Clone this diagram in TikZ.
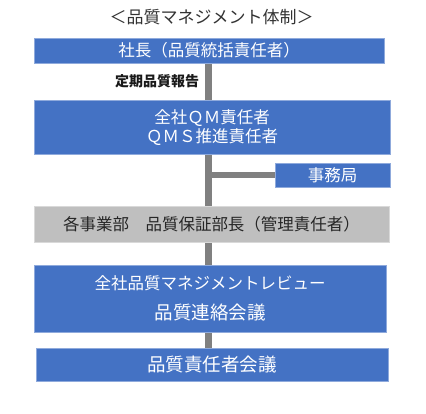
\documentclass[tikz,border=0pt]{standalone}
\usepackage{fontspec}
\setmainfont{Noto Sans CJK JP}
\usetikzlibrary{backgrounds}
\definecolor{qblue}{HTML}{4472C4}
\definecolor{qblueedge}{HTML}{8FAADC}
\definecolor{qgray}{HTML}{BFBFBF}
\definecolor{qgrayedge}{HTML}{D9D9D9}
\definecolor{qline}{HTML}{808080}
\tikzset{
  bluebox/.style={rectangle, fill=qblue, draw=qblueedge, line width=0.8pt, inner sep=0pt, text=white, align=center},
  graybox/.style={rectangle, fill=qgray, draw=qgrayedge, line width=0.8pt, inner sep=0pt, text=black!85, align=center},
  spineline/.style={draw=qline, line width=6.5pt},
  fs/.style={font=\fontsize{#1}{#1}\selectfont}
}
\begin{document}
\begin{tikzpicture}[x=1pt,y=-1pt]
\useasboundingbox (0,0) rectangle (426,414);
\node[fs=17, text=black!80] (title) at (211.5,17) {＜品質マネジメント体制＞};
\node[bluebox, fs=16.5, minimum width=350pt, minimum height=25pt] (pres) at (209,50.5) {社長（品質統括責任者）};
\node[font=\fontsize{14}{14}\selectfont\bfseries, text=black!90] (report) at (157,81) {定期品質報告};
\node[bluebox, minimum width=356pt, minimum height=54pt] (qm) at (212,127) {};
\node[fs=16.5, text=white] (qm1) at (212,118) {全社ＱＭ責任者};
\node[fs=16.5, text=white] (qm2) at (212,137) {ＱＭＳ推進責任者};
\node[bluebox, fs=16.5, minimum width=115pt, minimum height=24pt] (jimu) at (332.5,175) {事務局};
\node[graybox, fs=16.5, minimum width=355pt, minimum height=36pt] (div) at (211.5,224) {各事業部　品質保証部長（管理責任者）};
\node[bluebox, minimum width=352pt, minimum height=67pt] (rev) at (210,298.5) {};
\node[fs=16.5, text=white] (rev1) at (210,283) {全社品質マネジメントレビュー};
\node[fs=18.5, text=white] (rev2) at (210,313) {品質連絡会議};
\node[bluebox, fs=18.5, minimum width=352pt, minimum height=33pt] (meet) at (212,364.5) {品質責任者会議};
\coordinate (spine) at (208.5,0);
\begin{scope}[on background layer]
\draw[spineline] (pres.south -| spine) -- (meet.north -| spine);
\draw[spineline] (spine |- jimu.west) -- (jimu.west);
\end{scope}
\end{tikzpicture}
\end{document}
